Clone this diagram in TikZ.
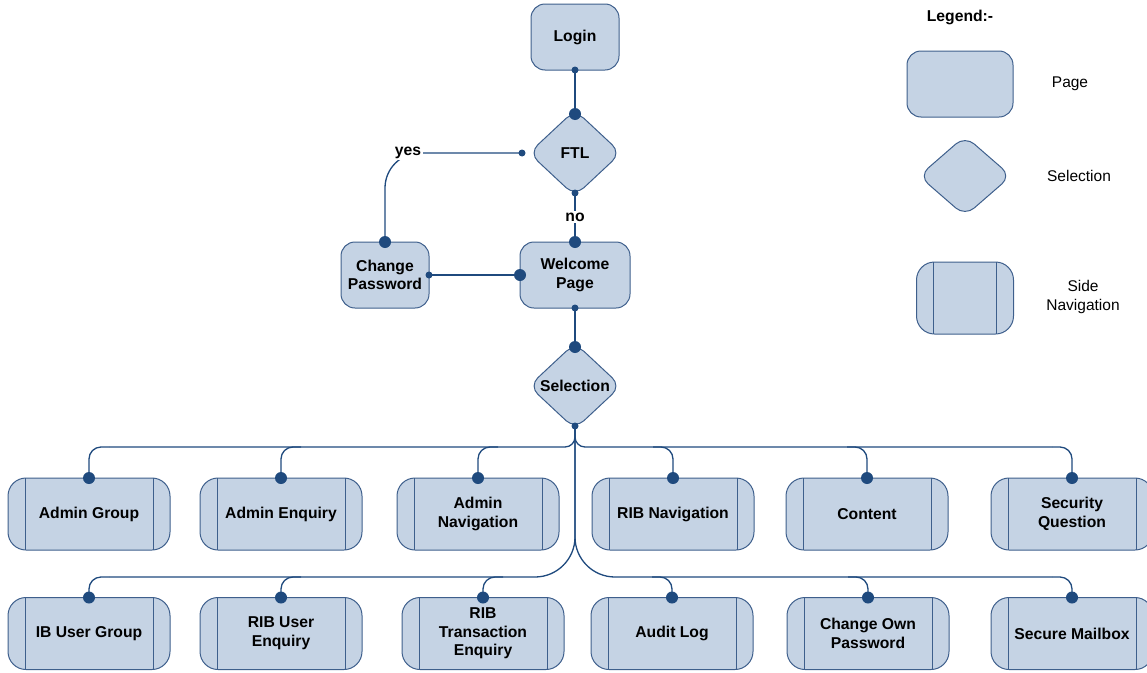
\documentclass[tikz,border=0pt]{standalone}
\usepackage{fontspec}
\setmainfont{Liberation Sans}
\usetikzlibrary{shapes.geometric,calc}
\definecolor{fillc}{RGB}{197,211,228}
\definecolor{boxc}{RGB}{62,95,140}
\definecolor{linec}{RGB}{31,74,126}
\begin{document}
\begin{tikzpicture}[x=1pt,y=-1pt,
  txt/.style={font=\fontsize{15.5}{18.5}\selectfont, text=black},
  btxt/.style={font=\fontsize{15.7}{18.7}\selectfont\bfseries, text=black},
  page/.style={btxt, draw=boxc, line width=1pt, fill=fillc, rounded corners=14pt,
    minimum width=88pt, minimum height=66pt, align=center, inner sep=0pt, outer sep=0pt},
  selbox/.style={btxt, diamond, draw=boxc, line width=1pt, fill=fillc, rounded corners=12pt,
    minimum width=92pt, minimum height=86pt, inner sep=0pt, outer sep=0pt},
  sidenav/.style={btxt, draw=boxc, line width=1pt, fill=fillc, rounded corners=18pt,
    minimum width=162pt, minimum height=72pt, align=center, inner sep=0pt, outer sep=0pt,
    path picture={\draw[boxc, line width=1pt]
      ([xshift=17pt]path picture bounding box.north west) -- ([xshift=17pt]path picture bounding box.south west)
      ([xshift=-17pt]path picture bounding box.north east) -- ([xshift=-17pt]path picture bounding box.south east);}},
  bigdot/.style={circle, fill=linec, inner sep=0pt, minimum size=12pt},
  smalldot/.style={circle, fill=linec, inner sep=0pt, minimum size=7pt},
  conn/.style={draw=linec, line width=1.3pt},
  lab/.style={btxt, fill=white, inner sep=1.5pt}
]
\useasboundingbox (0,0) rectangle (1147,672);

% main pages
\node[page] (login) at (575,37) {Login};
\node[selbox] (ftl) at (575,153) {FTL};
\node[page, minimum width=110pt] (wel) at (575,275) {Welcome\\Page};
\node[page] (cp) at (385,275) {Change\\Password};
\node[selbox] (sel) at (575,386) {Selection};

% row 1
\node[sidenav] (ag) at (89,514) {Admin Group};
\node[sidenav] (ae) at (281,514) {Admin Enquiry};
\node[sidenav] (an) at (478,514) {Admin\\Navigation};
\node[sidenav] (rn) at (673,514) {RIB Navigation};
\node[sidenav] (ct) at (867,514) {Content};
\node[sidenav] (sq) at (1072,514) {Security\\Question};

% row 2
\node[sidenav] (ibg) at (89,633.5) {IB User Group};
\node[sidenav] (rue) at (281,633.5) {RIB User\\Enquiry};
\node[sidenav] (rte) at (483,633.5) {RIB\\Transaction\\Enquiry};
\node[sidenav] (al) at (672,633.5) {Audit Log};
\node[sidenav] (cop) at (868,633.5) {Change Own\\Password};
\node[sidenav] (sm) at (1072,633.5) {Secure Mailbox};

% anchor coordinates
\coordinate (ftltop) at ([yshift=-4pt]ftl.north);
\coordinate (ftlbot) at ([yshift=3pt]ftl.south);
\coordinate (ftlleft) at ([xshift=-7pt]ftl.west);
\coordinate (seltop) at ([yshift=-4pt]sel.north);
\coordinate (selbot) at ([yshift=3pt]sel.south);
\coordinate (hub1) at (575,447);
\coordinate (hub2) at (575,577);

% connectors
\draw[conn] (login.south) -- (ftltop);
\draw[conn] (ftlbot) -- (wel.north);
\draw[conn, rounded corners=35pt] (ftlleft) -| (cp.north);
\draw[conn] (cp.east) -- (wel.west);
\draw[conn] (wel.south) -- (seltop);

\draw[conn, rounded corners=10pt] (selbot) -- (hub1) -- ([xshift=20pt]ag.north |- hub1);
\draw[conn, rounded corners=10pt] (selbot) -- (hub1) -- ([xshift=-20pt]sq.north |- hub1);
\foreach \b in {ag,ae,an}{
  \draw[conn, rounded corners=12pt] ([xshift=20pt]\b.north |- hub1) -| (\b.north);
}
\foreach \b in {rn,ct,sq}{
  \draw[conn, rounded corners=12pt] ([xshift=-20pt]\b.north |- hub1) -| (\b.north);
}
\draw[conn, rounded corners=40pt] (selbot) -- (hub2) -- ([xshift=20pt]ibg.north |- hub2);
\draw[conn, rounded corners=40pt] (selbot) -- (hub2) -- ([xshift=-20pt]sm.north |- hub2);
\foreach \b in {ibg,rue,rte}{
  \draw[conn, rounded corners=12pt] ([xshift=20pt]\b.north |- hub2) -| (\b.north);
}
\foreach \b in {al,cop,sm}{
  \draw[conn, rounded corners=12pt] ([xshift=-20pt]\b.north |- hub2) -| (\b.north);
}

% labels
\node[lab] (no) at (575,217) {no};
\node[lab] (yes) at (408,153) {yes};

% dots
\node[smalldot] (d1) at (login.south) {};
\node[bigdot] (d2) at (ftltop) {};
\node[smalldot] (d3) at (ftlbot) {};
\node[smalldot] (d4) at (ftlleft) {};
\node[bigdot] (d5) at (cp.north) {};
\node[smalldot] (d6) at (cp.east) {};
\node[bigdot] (d7) at (wel.north) {};
\node[bigdot] (d8) at (wel.west) {};
\node[smalldot] (d9) at (wel.south) {};
\node[bigdot] (d10) at (seltop) {};
\node[smalldot] (d11) at (selbot) {};
\foreach \b in {ag,ae,an,rn,ct,sq,ibg,rue,rte,al,cop,sm}{
  \node[bigdot] (dot\b) at (\b.north) {};
}

% legend
\node[btxt] (legt) at (960,17) {Legend:-};
\node[page, minimum width=106pt] (lp) at (960,84) {};
\node[txt] (lpt) at (1070,84) {Page};
\node[selbox, minimum width=92pt, minimum height=80pt] (ls) at (965,176) {};
\node[txt] (lst) at (1079,176) {Selection};
\node[sidenav, minimum width=97pt] (ln) at (965,298) {};
\node[txt, align=center] (lnt) at (1083,297) {Side\\Navigation};
\end{tikzpicture}
\end{document}
